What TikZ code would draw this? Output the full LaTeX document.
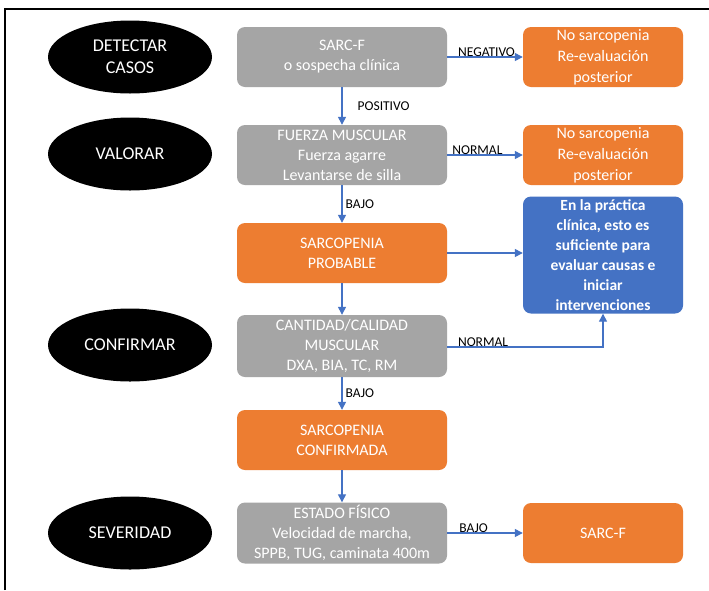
\documentclass[tikz,border=0pt]{standalone}
\usepackage{fontspec}
\setmainfont{Carlito}
\usetikzlibrary{shapes.geometric,arrows.meta}
\definecolor{boxgray}{HTML}{A5A5A5}
\definecolor{boxorange}{HTML}{ED7D31}
\definecolor{boxblue}{HTML}{4472C4}
\definecolor{arrowblue}{HTML}{4472C4}
\tikzset{
  stage/.style={ellipse, fill=black, text=white, minimum width=164pt, minimum height=73pt,
    inner sep=0pt, align=center, font=\fontsize{18}{22}\selectfont},
  graybox/.style={rounded corners=8pt, fill=boxgray, text=white, minimum width=210pt,
    minimum height=60pt, inner sep=0pt, align=center, font=\fontsize{16}{20}\selectfont},
  orangebox/.style={graybox, fill=boxorange},
  sidebox/.style={rounded corners=8pt, fill=boxorange, text=white, minimum width=160pt,
    minimum height=60pt, inner sep=0pt, align=center, font=\fontsize{16}{21}\selectfont},
  bluebox/.style={sidebox, fill=boxblue, minimum height=117pt, font=\bfseries\fontsize{15.5}{20}\selectfont},
  conn/.style={draw=arrowblue, line width=1.3pt, -{Triangle[length=8pt,width=8pt]}},
  lbl/.style={font=\fontsize{13.5}{15}\selectfont, text=black, inner sep=1pt},
}
\begin{document}
\begin{tikzpicture}[x=1pt,y=-1pt]
\useasboundingbox (0,0) rectangle (709,590);
\fill[white] (0,0) rectangle (709,590);
\draw[line width=2pt] (5,590) -- (5,9) -- (709,9);

% stages
\node[stage] (e1) at (130,57) {DETECTAR\\CASOS};
\node[stage] (e2) at (130,154) {VALORAR};
\node[stage] (e3) at (130,345) {CONFIRMAR};
\node[stage] (e4) at (130,533) {SEVERIDAD};

% centre column
\node[graybox] (g1) at (342,57) {SARC-F\\o sospecha clínica};
\node[graybox] (g2) at (342,155) {FUERZA MUSCULAR\\Fuerza agarre\\Levantarse de silla};
\node[orangebox] (o1) at (342,253) {SARCOPENIA\\PROBABLE};
\node[graybox, minimum height=62pt] (g3) at (342,346) {CANTIDAD/CALIDAD\\MUSCULAR\\DXA, BIA, TC, RM};
\node[orangebox] (o2) at (342,440) {SARCOPENIA\\CONFIRMADA};
\node[graybox, minimum height=61pt] (g4) at (342,533) {ESTADO FÍSICO\\Velocidad de marcha,\\SPPB, TUG, caminata 400m};

% right column
\node[sidebox] (r1) at (603,57) {No sarcopenia\\Re-evaluación\\posterior};
\node[sidebox] (r2) at (603,155) {No sarcopenia\\Re-evaluación\\posterior};
\node[bluebox] (b1) at (603,255) {En la práctica\\clínica, esto es\\suficiente para\\evaluar causas e\\iniciar\\intervenciones};
\node[sidebox] (r3) at (603,533) {SARC-F};

% vertical connectors
\draw[conn] (g1) -- node[lbl, right, pos=0.5, xshift=14pt] {POSITIVO} (g2);
\draw[conn] (g2) -- node[lbl, right, pos=0.5, xshift=2pt] {BAJO} (o1);
\draw[conn] (o1) -- (g3);
\draw[conn] (g3) -- node[lbl, right, pos=0.5, xshift=2pt] {BAJO} (o2);
\draw[conn] (o2) -- (g4);

% horizontal connectors
\draw[conn] (g1.east) -- node[lbl, above, pos=0.52, yshift=-1pt] {NEGATIVO} (r1.west);
\draw[conn] (g2.east) -- node[lbl, above, pos=0.4, yshift=-1pt] {NORMAL} (r2.west);
\draw[conn] (o1.east) -- (o1.east -| r1.west);
\coordinate (c1) at (g3.east |- 0,347);
\coordinate (c2) at (b1.south |- 0,347);
\draw[conn] (c1) -- node[lbl, above, pos=0.23, yshift=-1pt] {NORMAL} (c2) -- (b1.south);
\draw[conn] (g4.east) -- node[lbl, above, pos=0.35, yshift=-1pt] {BAJO} (r3.west);
\end{tikzpicture}
\end{document}
